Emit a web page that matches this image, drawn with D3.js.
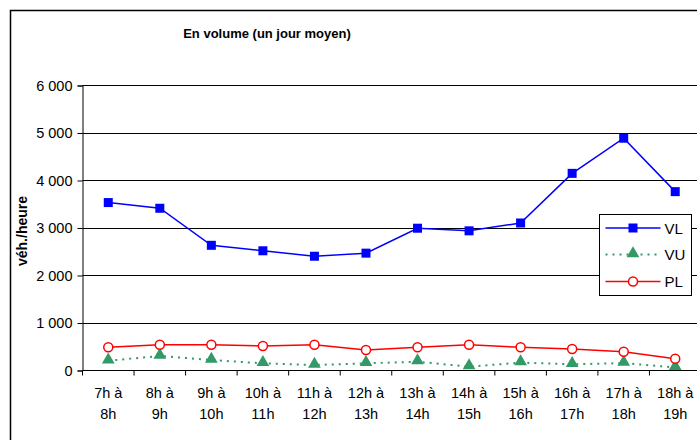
<!DOCTYPE html>
<html>
<head>
<meta charset="utf-8">
<title>En volume</title>
<style>
    body { margin: 0; background: #fff; }
    svg { display: block; font-family: "Liberation Sans", Arial, sans-serif; }
</style>
</head>
<body>
<script src="https://d3js.org/d3.v7.min.js"></script>
<script>
    // categories (two line labels)
    var hours = ["7h à|8h", "8h à|9h", "9h à|10h", "10h à|11h", "11h à|12h", "12h à|13h",
                 "13h à|14h", "14h à|15h", "15h à|16h", "16h à|17h", "17h à|18h", "18h à|19h"];
    var vlValues = [3525, 3405, 2625, 2510, 2395, 2460, 2985, 2930, 3095, 4140, 4880, 3755];
    var vuValues = [195, 295, 210, 140, 105, 140, 175, 70, 155, 120, 145, 55];
    var plValues = [478, 530, 530, 505, 530, 420, 478, 530, 478, 442, 386, 238];
    var yTicks = [0, 1000, 2000, 3000, 4000, 5000, 6000];
    var seriesNames = ["VL", "VU", "PL"];

    var w = 697, h = 440;
    var svg = d3.select("body").append("svg").attr("width", w).attr("height", h);

    // chart frame
    svg.append("rect")
        .attr("x", 10.5).attr("y", 10.5)
        .attr("width", 720).attr("height", 460)
        .attr("fill", "none").attr("stroke", "#000").attr("stroke-width", 1.5);

    var plotL = 82.5, plotR = 701, plotT = 85, plotB = 370;

    var x = d3.scaleBand().domain(d3.range(hours.length)).range([plotL, plotR]);
    var y = d3.scaleLinear().domain([0, 6000]).range([plotB, plotT]);

    // gridlines
    svg.append("g").selectAll("line")
        .data(yTicks.filter(function (d) { return d > 0; }))
        .enter().append("line")
        .attr("x1", plotL).attr("x2", plotR)
        .attr("y1", function (d) { return Math.round(y(d)) + 0.5; })
        .attr("y2", function (d) { return Math.round(y(d)) + 0.5; })
        .attr("stroke", "#000").attr("stroke-width", 1);

    // y axis
    var yAxis = svg.append("g")
        .attr("transform", "translate(" + plotL + ",0.5)")
        .call(d3.axisLeft(y).tickValues(yTicks).tickSize(5).tickPadding(5)
            .tickFormat(function (d) { return d3.format(",")(d).replace(",", " "); }));
    yAxis.select(".domain").attr("stroke", "#000");
    yAxis.selectAll("line").attr("stroke", "#000");
    yAxis.selectAll("text").attr("font-size", "14.5px").attr("fill", "#000")
        .attr("font-family", "Liberation Sans, Arial, sans-serif");

    // x axis
    var xAxis = svg.append("g")
        .attr("transform", "translate(0," + (plotB + 0.5) + ")");
    xAxis.append("line")
        .attr("x1", plotL).attr("x2", plotR).attr("stroke", "#000");
    xAxis.selectAll(".tk")
        .data(d3.range(hours.length + 1))
        .enter().append("line")
        .attr("x1", function (i) { return plotL + i * x.step(); })
        .attr("x2", function (i) { return plotL + i * x.step(); })
        .attr("y1", 0).attr("y2", 5)
        .attr("stroke", "#000");
    var lbl = xAxis.selectAll(".lbl")
        .data(hours)
        .enter().append("text")
        .attr("text-anchor", "middle")
        .attr("font-size", "14.5px")
        .attr("fill", "#000");
    lbl.each(function (d, i) {
        var parts = d.split("|");
        var t = d3.select(this);
        t.append("tspan").attr("x", x(i) + x.bandwidth() / 2).attr("y", 27).text(parts[0]);
        t.append("tspan").attr("x", x(i) + x.bandwidth() / 2).attr("y", 48).text(parts[1]);
    });

    // titles
    svg.append("text")
        .attr("x", 267).attr("y", 38)
        .attr("text-anchor", "middle")
        .attr("font-size", "13px").attr("font-weight", "bold")
        .text("En volume (un jour moyen)");

    svg.append("text")
        .attr("transform", "translate(27,231) rotate(-90)")
        .attr("text-anchor", "middle")
        .attr("font-size", "14px").attr("font-weight", "bold")
        .text("véh./heure");

    var cx = function (d, i) { return x(i) + x.bandwidth() / 2; };
    var line = d3.line().x(function (d, i) { return cx(d, i); }).y(function (d) { return y(d); });

    // VU
    svg.append("path").datum(vuValues)
        .attr("d", line).attr("fill", "none")
        .attr("stroke", "#339966").attr("stroke-width", 2).attr("stroke-dasharray", "2,5");
    svg.append("g").selectAll("path").data(vuValues).enter().append("path")
        .attr("d", d3.symbol().type(d3.symbolTriangle).size(70))
        .attr("transform", function (d, i) { return "translate(" + cx(d, i) + "," + (y(d) - 1) + ")"; })
        .attr("fill", "#339966");

    // PL
    svg.append("path").datum(plValues)
        .attr("d", line).attr("fill", "none")
        .attr("stroke", "#ff0000").attr("stroke-width", 1.5);
    svg.append("g").selectAll("circle").data(plValues).enter().append("circle")
        .attr("cx", cx).attr("cy", function (d) { return y(d); })
        .attr("r", 4.5)
        .attr("fill", "#fff").attr("stroke", "#ff0000").attr("stroke-width", 1.5);

    // VL
    svg.append("path").datum(vlValues)
        .attr("d", line).attr("fill", "none")
        .attr("stroke", "#0000ff").attr("stroke-width", 1.5);
    svg.append("g").selectAll("rect").data(vlValues).enter().append("rect")
        .attr("x", function (d, i) { return cx(d, i) - 4.5; })
        .attr("y", function (d) { return y(d) - 4.5; })
        .attr("width", 9).attr("height", 9)
        .attr("fill", "#0000ff");

    // legend
    var lg = svg.append("g").attr("transform", "translate(599.5,214.5)");
    lg.append("rect").attr("width", 92).attr("height", 81)
        .attr("fill", "#fff").attr("stroke", "#000").attr("stroke-width", 1);
    var rows = [13.5, 40, 67];
    var lx1 = 6, lx2 = 61, mx = 33.5;
    // VL row
    lg.append("line").attr("x1", lx1).attr("x2", lx2).attr("y1", rows[0]).attr("y2", rows[0])
        .attr("stroke", "#0000ff").attr("stroke-width", 1.5);
    lg.append("rect").attr("x", mx - 4.5).attr("y", rows[0] - 4.5).attr("width", 9).attr("height", 9)
        .attr("fill", "#0000ff");
    // VU row
    lg.append("line").attr("x1", lx1).attr("x2", lx2).attr("y1", rows[1]).attr("y2", rows[1])
        .attr("stroke", "#339966").attr("stroke-width", 2).attr("stroke-dasharray", "2,5");
    lg.append("path").attr("d", d3.symbol().type(d3.symbolTriangle).size(70))
        .attr("transform", "translate(" + mx + "," + (rows[1] - 1) + ")")
        .attr("fill", "#339966");
    // PL row
    lg.append("line").attr("x1", lx1).attr("x2", lx2).attr("y1", rows[2]).attr("y2", rows[2])
        .attr("stroke", "#ff0000").attr("stroke-width", 1.5);
    lg.append("circle").attr("cx", mx).attr("cy", rows[2]).attr("r", 4.5)
        .attr("fill", "#fff").attr("stroke", "#ff0000").attr("stroke-width", 1.5);

    lg.selectAll("text.name").data(seriesNames).enter().append("text")
        .attr("x", 65).attr("y", function (d, i) { return rows[i] + 5.5; })
        .attr("font-size", "15px").attr("fill", "#000")
        .text(function (d) { return d; });
</script>
</body>
</html>
